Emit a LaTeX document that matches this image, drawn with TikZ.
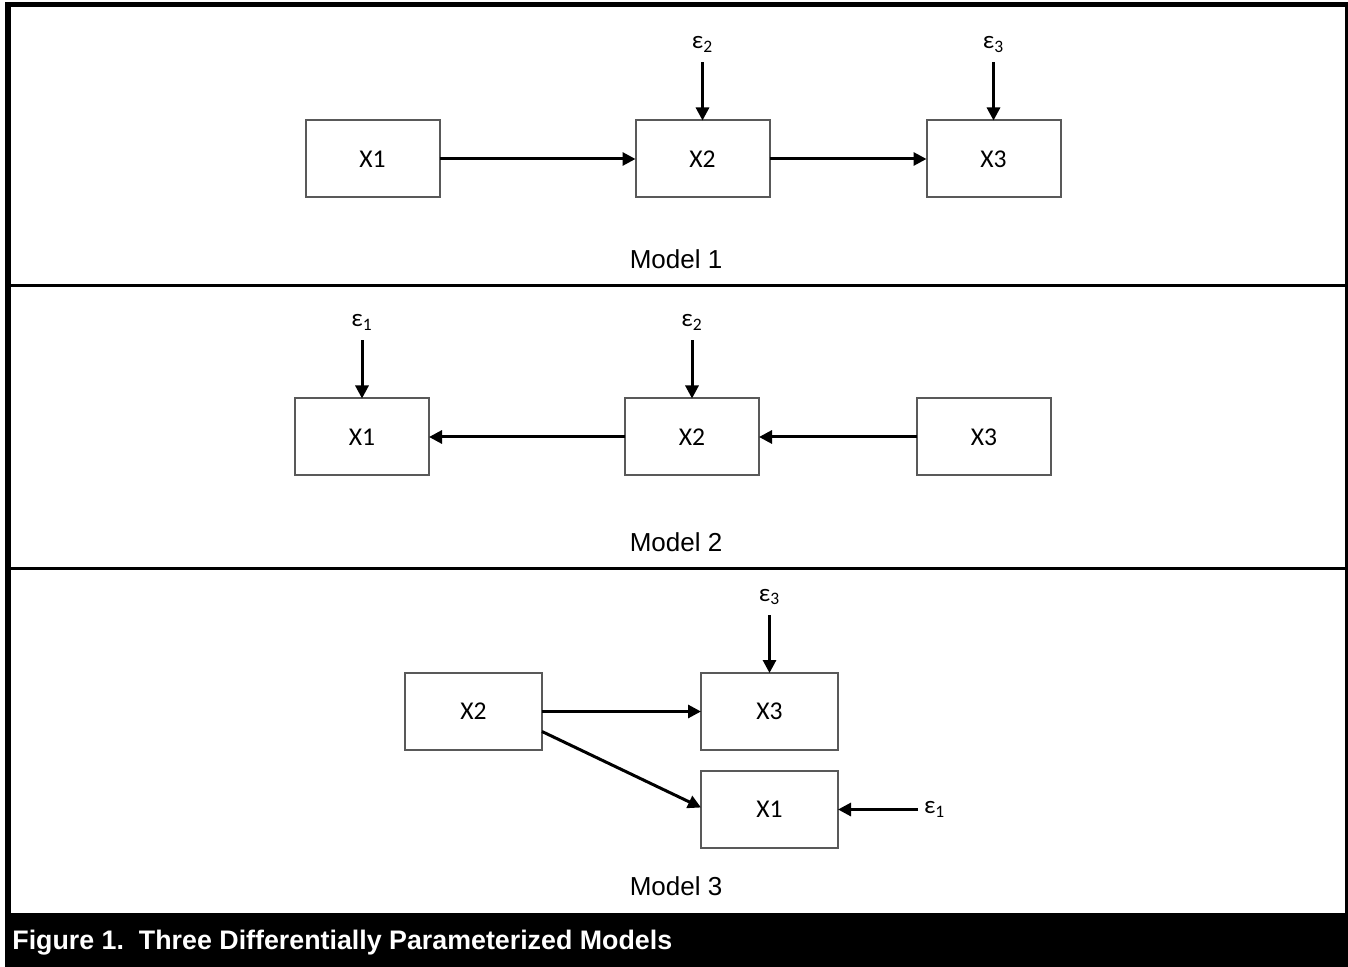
\documentclass[tikz,border=0pt]{standalone}
\usepackage{fontspec}
\setmainfont{Liberation Sans}
\newfontfamily\boxfont{Carlito}
\usetikzlibrary{arrows.meta,positioning}

\begin{document}
\begin{tikzpicture}[x=0.5pt,y=-0.5pt,
    varbox/.style={draw=black!65, line width=1pt, minimum width=67pt, minimum height=38.5pt,
      inner sep=0pt, outer sep=0pt, font=\boxfont\fontsize{12.8}{14}\selectfont},
    widebox/.style={varbox, minimum width=68.5pt},
    errlbl/.style={inner sep=0pt, outer sep=0pt, font=\boxfont\fontsize{12.5}{14}\selectfont},
    arr/.style={-{Triangle[length=6.5pt,width=6.5pt]}, line width=1.5pt},
    modlbl/.style={font=\fontsize{13}{15}\selectfont}
  ]
    \useasboundingbox (0,0) rectangle (1348,967);
    % frame, dividers and caption band
    \fill (5,2) rectangle (1348,7);
    \fill (5,2) rectangle (11,913);
    \fill (1345,2) rectangle (1348,913);
    \fill (11,284) rectangle (1345,287);
    \fill (11,567) rectangle (1345,570);
    \fill (5,913) rectangle (1348,967);
    \node[anchor=west, inner sep=0pt, text=white, font=\bfseries\fontsize{13.4}{15}\selectfont] (cap) at (12,943)
      {Figure 1.~~Three Differentially Parameterized Models};

    % Model 1
    \node[varbox] (m1x1) at (372.5,159) {X1};
    \node[varbox, right=98pt of m1x1] (m1x2) {X2};
    \node[varbox, right=78.5pt of m1x2] (m1x3) {X3};
    \node[errlbl, above=34pt of m1x2] (m1e2) {ε\textsubscript{2}};
    \node[errlbl, above=34pt of m1x3] (m1e3) {ε\textsubscript{3}};
    \draw[arr] (m1x1) -- (m1x2);
    \draw[arr] (m1x2) -- (m1x3);
    \draw[arr, shorten <=5pt] (m1e2.south) -- (m1x2.north);
    \draw[arr, shorten <=5pt] (m1e3.south) -- (m1x3.north);
    \node[modlbl] (m1) at (676,259) {Model 1};

    % Model 2
    \node[varbox] (m2x1) at (362,437) {X1};
    \node[varbox, right=98pt of m2x1] (m2x2) {X2};
    \node[varbox, right=79pt of m2x2] (m2x3) {X3};
    \node[errlbl, above=34pt of m2x1] (m2e1) {ε\textsubscript{1}};
    \node[errlbl, above=34pt of m2x2] (m2e2) {ε\textsubscript{2}};
    \draw[arr] (m2x2) -- (m2x1);
    \draw[arr] (m2x3) -- (m2x2);
    \draw[arr, shorten <=5pt] (m2e1.south) -- (m2x1.north);
    \draw[arr, shorten <=5pt] (m2e2.south) -- (m2x2.north);
    \node[modlbl] (m2) at (676,542) {Model 2};

    % Model 3
    \node[widebox] (m3x2) at (473.5,711.5) {X2};
    \node[widebox, right=79.5pt of m3x2] (m3x3) {X3};
    \node[widebox, below=10.5pt of m3x3] (m3x1) {X1};
    \node[errlbl, above=34pt of m3x3] (m3e3) {ε\textsubscript{3}};
    \node[errlbl, right=43pt of m3x1] (m3e1) {ε\textsubscript{1}};
    \draw[arr] (m3x2) -- (m3x3);
    \draw[arr] ([yshift=-10pt]m3x2.east) -- ([yshift=1pt]m3x1.west);
    \draw[arr, shorten <=5pt] (m3e3.south) -- (m3x3.north);
    \draw[arr, shorten <=3pt] (m3e1.west) -- (m3x1.east);
    \node[modlbl] (m3) at (676,886) {Model 3};
\end{tikzpicture}
\end{document}
